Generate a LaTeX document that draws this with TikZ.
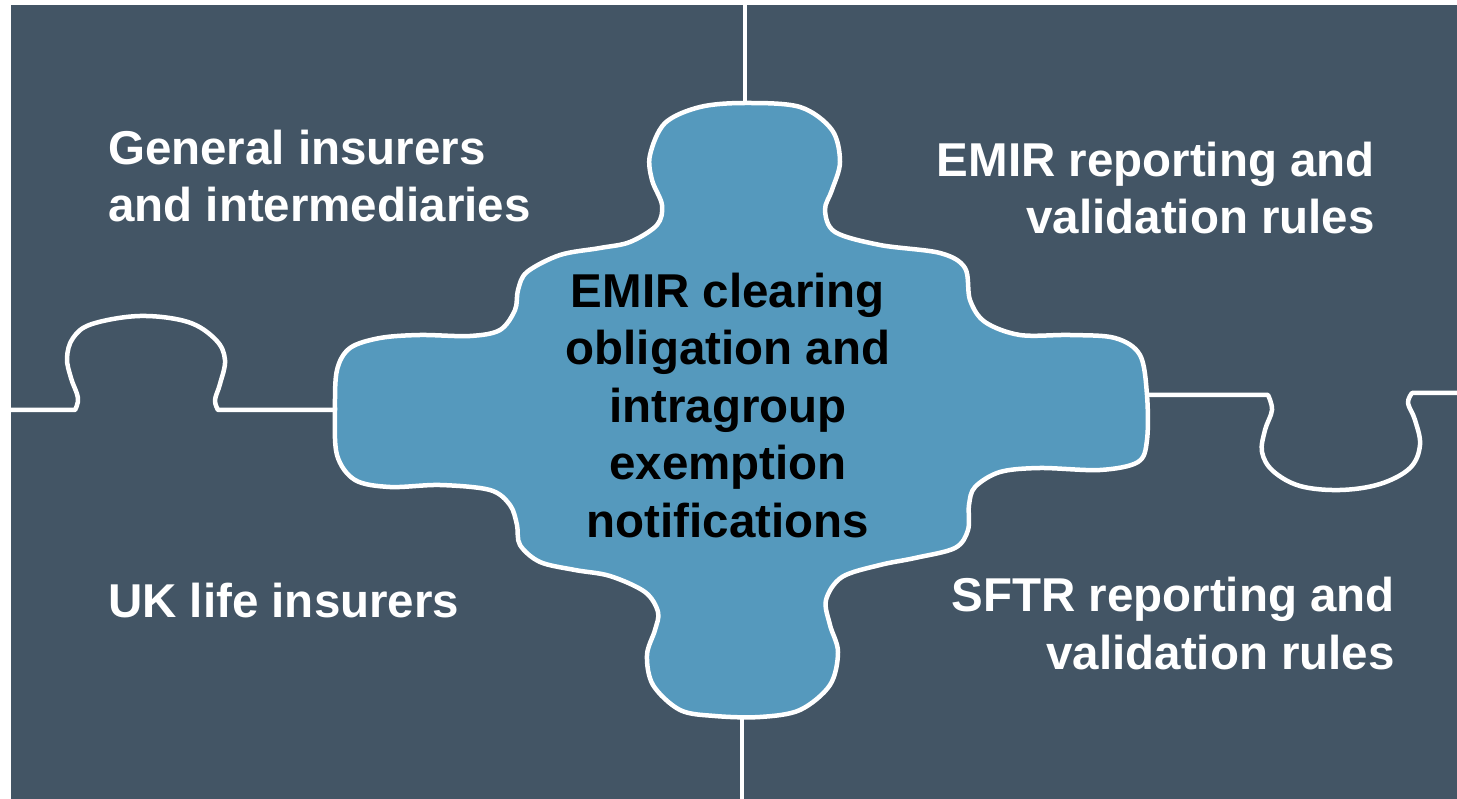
\documentclass[tikz,border=0pt]{standalone}
\usepackage{fontspec}
\setmainfont{Liberation Sans}
\definecolor{slate}{HTML}{435565}
\definecolor{piece}{HTML}{5599BD}
\begin{document}
\begin{tikzpicture}[x=1pt,y=-1pt,
  seam/.style={draw=white,line width=4.5pt,line join=round,line cap=round},
  label/.style={font=\bfseries\fontsize{47.5}{57.5}\selectfont,inner sep=0pt,text=white},
  centre/.style={label,text=black,align=center}]
  % canvas
  \fill[white] (0,0) rectangle (1457,799);
  \useasboundingbox (0,0) rectangle (1457,799);
  \fill[slate] (11,5) rectangle (1457,799);

  % seams between the outer pieces
  \draw[seam] (745,5) -- (745,110);
  \draw[seam] (742,710) -- (742,799);
  \draw[seam] (11,410) -- (75,410) -- plot[smooth,tension=0.6] coordinates {
    (75,410) (78,398) (71,378) (67,358) (73,338) (92,324) (140,316)
    (188,322) (216,340) (225,360) (220,384) (215,400) (218,410)} -- (340,410);
  \draw[seam] (1140,395) -- (1268,395) -- plot[smooth,tension=0.6] coordinates {
    (1268,395) (1272,410) (1265,430) (1262,452) (1273,471) (1300,486)
    (1340,490) (1380,484) (1410,468) (1420,445) (1415,420) (1408,403) (1412,393)}
    -- (1457,393);

  % central piece
  \filldraw[seam,fill=piece] plot[smooth cycle,tension=0.55] coordinates {
    (745,103) (800,107) (832,130) (840,162) (832,190) (825,210) (835,232)
    (880,245) (940,253) (965,268) (970,300) (985,322) (1020,335) (1070,335)
    (1115,338) (1140,355) (1147,395) (1147,440) (1138,462) (1100,470)
    (1040,468) (1000,472) (975,487) (969,505) (968,530) (955,548) (915,558)
    (880,565) (842,577) (826,600) (830,625) (838,652) (830,685) (800,710)
    (760,717) (715,716) (680,710) (653,685) (647,655) (655,630) (658,612)
    (645,592) (610,576) (575,570) (540,562) (520,545) (517,525) (510,505)
    (490,490) (440,485) (390,487) (355,480) (337,455) (335,410) (337,370)
    (350,348) (380,338) (420,335) (470,336) (500,330) (515,310) (518,290)
    (527,272) (560,255) (600,248) (630,242) (657,225) (662,205) (652,180)
    (650,155) (665,123) (700,107)};

  % texts (base anchor sits on the last line of each block)
  \node[label,align=left,anchor=base west] (general) at (108,222)
    {General insurers\\and intermediaries};
  \node[label,anchor=base west] (life) at (108,617) {UK life insurers};
  \node[label,align=right,anchor=base east] (emirrep) at (1375,234)
    {EMIR reporting and\\validation rules};
  \node[label,align=right,anchor=base east] (sftr) at (1395,669)
    {SFTR reporting and\\validation rules};
  \node[centre,anchor=base] (clearing) at (728,537)
    {EMIR clearing\\obligation and\\intragroup\\exemption\\notifications};
\end{tikzpicture}
\end{document}
